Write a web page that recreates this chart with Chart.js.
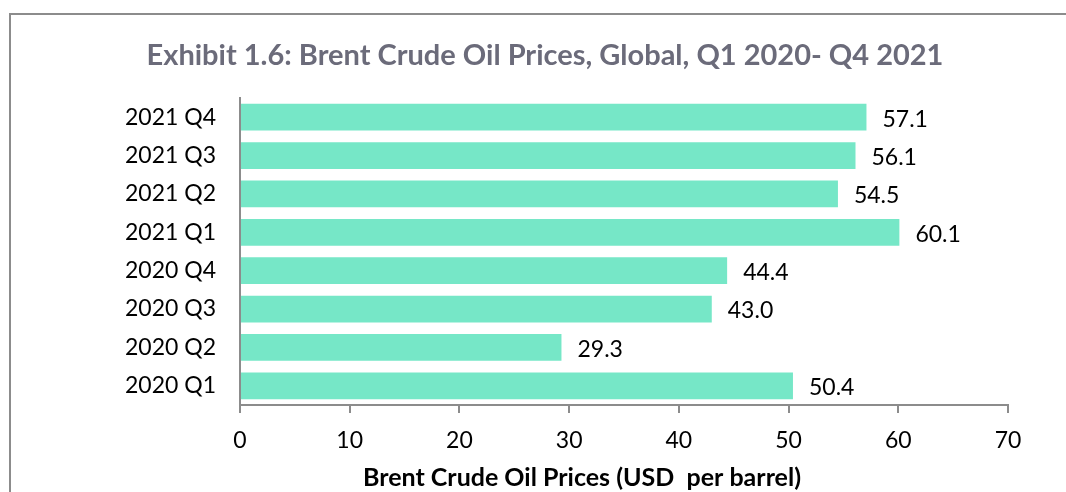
<!DOCTYPE html>
<html>
<head>
  <meta charset="UTF-8">
  <title>Brent Crude Oil Prices</title>
  <script src="https://cdn.jsdelivr.net/npm/chart.js"></script>
  <style>
    html, body {
      margin: 0;
      padding: 0;
      background: #ffffff;
      overflow: hidden;
    }
    #frame {
      position: absolute;
      left: 9px;
      top: 13px;
      width: 1200px;
      height: 600px;
      border-left: 2px solid #8c8c8c;
      border-top: 2px solid #8c8c8c;
    }
    canvas {
      position: absolute;
      left: 0;
      top: 0;
    }
  </style>
</head>
<body>
  <div id="frame"></div>
  <canvas id="chart" width="1066" height="492"></canvas>

  <script>
    // quarters top to bottom, as in the picture
    const kvartaly = ['2021 Q4', '2021 Q3', '2021 Q2', '2021 Q1', '2020 Q4', '2020 Q3', '2020 Q2', '2020 Q1'];
    const ceny = [57.1, 56.1, 54.5, 60.1, 44.4, 43.0, 29.3, 50.4];
    const osX = [0, 10, 20, 30, 40, 50, 60, 70];

    const nadpis = 'Exhibit 1.6: Brent Crude Oil Prices, Global, Q1 2020- Q4 2021';
    const nazovOsi = 'Brent Crude Oil Prices (USD  per barrel)';

    const pismo = 'Lato, "Open Sans", sans-serif';

    // hodnoty za koncom stĺpca + nadpisy
    const popisky = {
      id: 'popisky',
      afterDatasetsDraw(chart) {
        const c = chart.ctx;
        const meta = chart.getDatasetMeta(0);
        c.save();
        c.font = '23px ' + pismo;
        c.fillStyle = '#000';
        c.textBaseline = 'middle';
        c.textAlign = 'left';
        meta.data.forEach((bar, i) => {
          c.fillText(ceny[i].toFixed(1), bar.x + 16, bar.y + 2);
        });

        c.textAlign = 'center';
        c.font = 'bold 29px ' + pismo;
        c.fillStyle = '#6b6b7a';
        c.fillText(nadpis, 545, 56);

        c.font = 'bold 25px ' + pismo;
        c.fillStyle = '#000';
        c.fillText(nazovOsi, 582, 478);
        c.restore();
      }
    };

    const ctx = document.getElementById('chart').getContext('2d');
    new Chart(ctx, {
      type: 'bar',
      data: {
        labels: kvartaly,
        datasets: [{
          data: ceny,
          backgroundColor: '#76e7c7',
          borderWidth: 0,
          barPercentage: 0.7,
          categoryPercentage: 1.0
        }]
      },
      options: {
        indexAxis: 'y',
        responsive: false,
        animation: false,
        layout: { padding: { left: 0, right: 58, top: 98, bottom: 0 } },
        plugins: {
          legend: { display: false },
          tooltip: { enabled: false },
          title: { display: false }
        },
        scales: {
          x: {
            min: 0,
            max: 70,
            afterFit(scale) { scale.height = 87; },
            afterBuildTicks(scale) { scale.ticks = osX.map(v => ({ value: v })); },
            grid: {
              drawOnChartArea: false,
              drawTicks: true,
              tickLength: 8,
              color: '#8c8c8c',
              lineWidth: 2
            },
            border: { display: true, color: '#8c8c8c', width: 2 },
            ticks: {
              color: '#000',
              padding: 14,
              font: { family: pismo, size: 23 }
            },
            title: { display: false }
          },
          y: {
            afterFit(scale) { scale.width = 240; },
            grid: { display: false, drawTicks: false },
            border: { display: true, color: '#8c8c8c', width: 2 },
            ticks: {
              color: '#000',
              padding: 24,
              font: { family: pismo, size: 23 }
            }
          }
        }
      },
      plugins: [popisky]
    });
  </script>
</body>
</html>
